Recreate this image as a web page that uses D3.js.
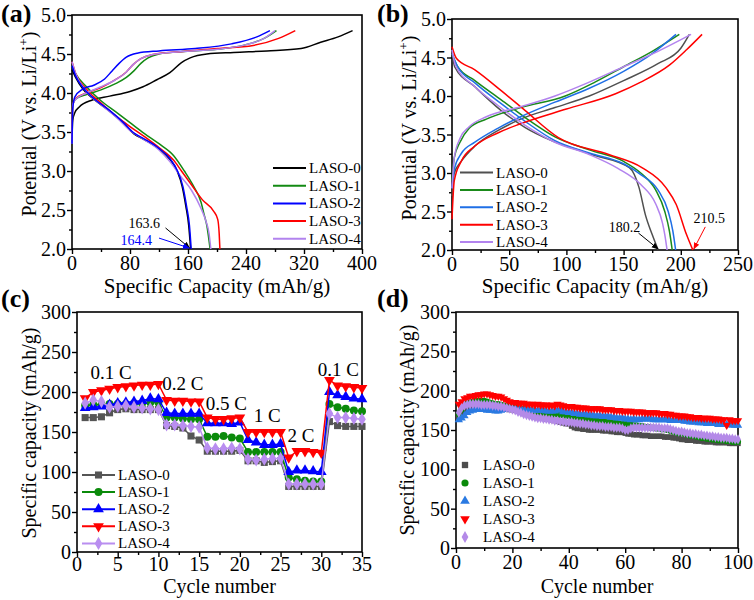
<!DOCTYPE html>
<html><head><meta charset="utf-8">
<script src="https://cdn.jsdelivr.net/npm/d3@7"></script>
<style>body{margin:0;background:#fff}</style>
</head><body><svg id="chart" width="754" height="600"></svg>
<script>
const seriesNames = ["LASO-0","LASO-1","LASO-2","LASO-3","LASO-4"];

// ---- Panel (a): first charge / discharge, [capacity, potential]
const a0Charge = [[0,3.39],[1,3.65],[4,3.75],[10,3.82],[28,3.91],[52,3.96],[80,4.02],[98,4.08],[117,4.17],[135,4.26],[151,4.39],[163,4.45],[186,4.50],[223,4.52],[269,4.54],[316,4.57],[343,4.65],[367,4.72],[387,4.80]];
const a1Charge = [[0,3.4],[1,3.85],[5,3.92],[20,3.98],[40,4.04],[60,4.12],[75,4.2],[85,4.28],[95,4.38],[105,4.45],[120,4.5],[150,4.53],[200,4.56],[240,4.62],[265,4.7],[282,4.8]];
const a2Charge = [[0,3.35],[1,3.8],[4,3.95],[15,4.05],[30,4.1],[45,4.18],[55,4.28],[65,4.38],[75,4.46],[90,4.51],[120,4.54],[170,4.57],[220,4.63],[255,4.72],[273,4.8]];
const a3Charge = [[0,3.4],[1,3.85],[5,3.93],[20,4.0],[40,4.07],[60,4.17],[75,4.27],[85,4.37],[95,4.44],[110,4.49],[150,4.53],[200,4.57],[250,4.61],[285,4.7],[308,4.8]];
const a4Charge = [[0,3.35],[1,3.85],[5,3.92],[20,4.0],[40,4.08],[60,4.17],[75,4.27],[85,4.37],[95,4.44],[110,4.49],[150,4.53],[200,4.56],[240,4.62],[265,4.7],[280,4.8]];
const a0Dis = [[0,4.3],[5,4.2],[15,4.05],[30,3.92],[50,3.78],[70,3.62],[85,3.48],[100,3.4],[120,3.28],[135,3.15],[145,3.0],[152,2.8],[157,2.55],[161,2.3],[163.6,2.0]];
const a1Dis = [[0,4.35],[5,4.25],[20,4.08],[40,3.9],[60,3.76],[80,3.62],[100,3.48],[120,3.35],[140,3.2],[155,3.0],[168,2.8],[178,2.6],[182,2.45],[186,2.3],[190.5,2.0]];
const a2Dis = [[0,4.35],[5,4.22],[15,4.07],[30,3.93],[50,3.79],[70,3.63],[85,3.49],[100,3.41],[120,3.29],[135,3.16],[145,3.01],[153,2.8],[158,2.55],[162,2.3],[164.4,2.0]];
const a3Dis = [[0,4.4],[5,4.25],[20,4.05],[40,3.87],[60,3.71],[80,3.57],[100,3.44],[120,3.3],[140,3.14],[151,3.0],[165,2.82],[180,2.63],[195,2.49],[201,2.38],[203,2.2],[204,2.0]];
const a4Dis = [[0,4.4],[5,4.25],[20,4.02],[40,3.85],[60,3.7],[80,3.52],[100,3.4],[120,3.27],[135,3.12],[150,2.93],[165,2.75],[178,2.52],[185,2.35],[189,2.2],[191.5,2.0]];

// ---- Panel (b)
const b0Charge = [[0,2.7],[2,3.0],[8,3.15],[20,3.35],[40,3.55],[60,3.7],[90,3.85],[120,4.0],[150,4.2],[180,4.42],[200,4.62],[207.5,4.8]];
const b1Charge = [[0,2.9],[2,3.2],[7,3.4],[15,3.58],[30,3.7],[60,3.85],[99,4.0],[125,4.18],[150,4.38],[175,4.58],[198.7,4.8]];
const b2Charge = [[0,2.8],[2,3.05],[8,3.25],[20,3.4],[40,3.58],[60,3.73],[90,3.92],[120,4.1],[150,4.32],[175,4.55],[195.8,4.8]];
const b3Charge = [[0,2.4],[2,2.9],[8,3.15],[20,3.35],[40,3.52],[60,3.64],[100,3.83],[143,4.03],[165,4.18],[190,4.4],[205,4.6],[218.6,4.8]];
const b4Charge = [[0,2.8],[2,3.2],[7,3.45],[15,3.6],[30,3.73],[60,3.86],[90,4.0],[120,4.18],[150,4.38],[180,4.58],[209,4.8]];
const b0Dis = [[0,4.6],[2.3,4.38],[20,4.12],[43,3.81],[64,3.59],[87,3.42],[122,3.24],[155,3.07],[163.5,2.81],[169,2.46],[175,2.2],[180.2,2.0]];
const b1Dis = [[0,4.55],[5,4.38],[20,4.2],[43,3.95],[64,3.72],[90,3.47],[120,3.3],[150,3.15],[165,3.0],[178,2.78],[186,2.5],[190,2.25],[192.5,2.0]];
const b2Dis = [[0,4.55],[5,4.38],[20,4.17],[43,3.9],[64,3.67],[90,3.42],[120,3.26],[150,3.12],[165,2.98],[180,2.78],[189,2.5],[193,2.25],[195.5,2.0]];
const b3Dis = [[0,4.64],[3.8,4.49],[20,4.34],[43,4.07],[64,3.81],[93,3.46],[137,3.24],[166,3.07],[187,2.81],[196,2.59],[205,2.2],[210.5,2.0]];
const b4Dis = [[0,4.6],[3,4.4],[20,4.12],[40,3.88],[64,3.62],[90,3.4],[120,3.24],[145,3.06],[165,2.85],[178,2.6],[184,2.35],[186,2.2],[188,2.0]];

// ---- Panel (c): rate capability, cycles 1..35
const cCycles = d3.range(1, 36);
const c0 = [168,168,169,174,178,179,178,178,178,178, 158,157,155,145,140, 126,126,126,126,127, 114,114,112,113,114, 82,82,82,82,82, 163,158,157,157,157];
const c1 = [183,184,184,185,185,185,186,186,187,187, 168,168,167,166,166, 144,144,145,143,142, 125,125,125,125,125, 93,91,89,88,88, 185,181,179,177,176];
const c2 = [180,181,182,184,186,187,188,189,192,191, 174,173,173,173,173, 161,161,161,160,162, 140,137,134,134,135, 100,102,102,101,100, 200,196,194,192,191];
const c3 = [192,200,202,204,206,207,208,209,209,210, 190,189,189,188,188, 168,166,166,167,168, 150,150,150,150,150, 118,126,126,125,124, 215,208,207,206,205];
const c4 = [186,190,188,181,182,183,181,180,179,178, 159,159,158,157,156, 130,129,129,130,129, 116,115,116,117,117, 85,85,85,85,85, 173,168,168,167,166];
const cRateLabels = ["0.1 C","0.2 C","0.5 C","1 C","2 C","0.1 C"];

// ---- Panel (d): cycling, cycles 1..100
const dCycles = d3.range(1, 101);
const d0 = [165,170,175,178,180,181,182,182,181,180, 179,179,178,178,178,177,177,177,176,176, 175,174,173,171,170,169,168,167,166,166, 165,164,164,163,162,161,160,159,158,158, 155,153,152,152,151,151,150,150,150,150, 150,149,149,149,148,148,147,147,147,146, 145,145,144,144,144,143,143,143,142,142, 142,142,142,141,141,141,140,140,139,138, 138,137,137,137,136,136,136,135,135,135, 135,134,134,134,134,134,133,133,133,133];
const d1 = [170,176,181,184,185,186,187,187,187,187, 186,185,184,183,183,182,181,181,180,180, 179,178,177,177,176,175,175,174,173,173, 172,172,171,171,170,170,169,169,168,168, 167,167,166,165,165,164,164,163,162,162, 161,161,160,160,160,159,159,158,158,158, 157,157,156,156,155,155,154,154,153,153, 152,152,151,151,150,149,148,147,146,146, 145,144,143,143,142,141,140,140,139,139, 138,138,137,137,137,136,136,135,135,135];
const d2 = [163,165,168,172,174,175,176,176,176,176, 175,175,175,174,174,175,176,177,177,177, 177,177,177,176,176,176,175,175,175,175, 175,174,174,174,174,175,176,173,173,172, 172,171,171,170,170,170,169,169,168,168, 168,167,167,167,166,166,165,165,165,164, 164,163,164,163,163,164,164,164,164,163, 163,163,163,163,163,162,162,162,162,162, 161,161,160,160,160,159,159,159,158,158, 158,158,157,157,157,157,157,156,156,156];
const d3v = [183,186,190,191,193,193,194,195,195,196, 196,195,194,193,193,192,190,188,186,185, 185,184,184,184,183,183,183,182,183,182, 182,182,181,182,181,183,182,181,180,180, 180,179,179,178,178,178,177,177,177,177, 177,176,176,176,176,175,175,175,174,174, 174,174,173,173,173,173,172,172,172,172, 172,171,171,171,170,170,169,169,168,168, 168,167,167,166,166,166,165,165,165,165, 164,164,164,163,163,156,163,162,162,162];
const d4 = [172,178,181,182,183,183,183,183,182,182, 182,182,181,181,180,180,179,178,177,176, 175,173,172,170,169,168,167,166,165,165, 164,164,163,163,162,162,161,161,160,160, 160,159,159,158,158,157,157,156,156,155, 155,155,154,154,154,153,153,153,152,150, 150,152,153,153,153,153,153,153,153,153, 153,153,152,152,152,151,150,149,148,148, 147,146,146,145,145,144,144,143,143,142, 142,141,141,140,140,140,139,139,138,138];

const SERIF = '"Liberation Serif"';
const svg = d3.select("#chart");

function T(x, y, str, size, opts = {}) {
  const t = svg.append("text").attr("x", x).attr("y", y)
    .style("font-family", SERIF).style("font-size", size + "px")
    .attr("fill", opts.fill || "#000");
  if (opts.anchor) t.attr("text-anchor", opts.anchor);
  if (opts.weight) t.style("font-weight", opts.weight);
  if (opts.rotate) t.attr("transform", `rotate(${opts.rotate},${x},${y})`);
  if (opts.sup) {
    t.append("tspan").text(str);
    t.append("tspan").attr("dy", -8).style("font-size", "13px").text(opts.sup);
    t.append("tspan").attr("dy", 8).text(opts.after || "");
  } else t.text(str);
  return t;
}

function makePanel(o) {
  const x = d3.scaleLinear().domain(o.xDomain).range([o.left, o.right]);
  const y = d3.scaleLinear().domain(o.yDomain).range([o.bottom, o.top]);
  const g = svg.append("g");
  g.append("g").attr("transform", `translate(0,${o.bottom})`)
    .call(d3.axisBottom(x).tickValues(o.xMinor).tickSize(3).tickFormat(""));
  g.append("g").attr("transform", `translate(${o.left},0)`)
    .call(d3.axisLeft(y).tickValues(o.yMinor).tickSize(3).tickFormat(""));
  g.append("g").attr("transform", `translate(0,${o.bottom})`)
    .call(d3.axisBottom(x).tickValues(o.xTicks).tickSize(5).tickFormat(""));
  g.append("g").attr("transform", `translate(${o.left},0)`)
    .call(d3.axisLeft(y).tickValues(o.yTicks).tickSize(5).tickFormat(""));
  g.selectAll(".domain").remove();
  g.selectAll("text").remove();
  g.selectAll("line").attr("stroke", "#000").attr("stroke-width", 1.4);
  g.append("rect").attr("x", o.left).attr("y", o.top).attr("width", o.right - o.left).attr("height", o.bottom - o.top)
    .attr("fill", "none").attr("stroke", "#000").attr("stroke-width", 1.6);
  const xf = o.xFmt || d3.format("d"), yf = o.yFmt || d3.format("d");
  o.xTicks.forEach(v => T(x(v), o.bottom + o.xTickDy, xf(v), 20, {anchor: "middle"}));
  o.yTicks.forEach(v => T(o.left - 6, y(v) + 7, yf(v), 20, {anchor: "end"}));
  T((o.left + o.right) / 2, o.xTitleY, o.xTitle, o.xTitleSize, {anchor: "middle"});
  T(o.yTitleX, o.yTitleCY, o.yTitle, 20, {anchor: "middle", rotate: -90, sup: o.yTitleSup, after: ")"});
  T(o.labelX, o.labelY, o.label, 26, {weight: "bold"});
  return {x, y, g};
}

const defs = svg.append("defs");
function arrowMarker(id, color) {
  defs.append("marker").attr("id", id).attr("viewBox", "0 0 10 10").attr("refX", 9).attr("refY", 5)
    .attr("markerWidth", 7).attr("markerHeight", 7).attr("orient", "auto")
    .append("path").attr("d", "M0,1 L10,5 L0,9 Z").attr("fill", color);
}
arrowMarker("arK", "#000"); arrowMarker("arB", "#0000ff"); arrowMarker("arR", "#ff0000");

function lineLegend(x0, y0, step, names, colors) {
  names.forEach((n, i) => {
    const yy = y0 + i * step;
    svg.append("line").attr("x1", x0).attr("x2", x0 + 33).attr("y1", yy).attr("y2", yy)
      .attr("stroke", colors[i]).attr("stroke-width", 2);
    T(x0 + 36, yy + 5, n, 15);
  });
}

// ================= Panel (a)
{
  const P = makePanel({left: 72, right: 362, top: 15, bottom: 249, xDomain: [0, 400], yDomain: [2, 5],
    xTicks: [0, 80, 160, 240, 320, 400], xMinor: d3.range(40, 400, 80), yTicks: [2, 2.5, 3, 3.5, 4, 4.5, 5],
    yMinor: d3.range(2.25, 5, 0.5), yFmt: d3.format(".1f"), xTickDy: 21,
    xTitle: "Specific Capacity (mAh/g)", xTitleY: 293, xTitleSize: 21, yTitle: "Potential (V vs. Li/Li", yTitleSup: "+", yTitleX: 36, yTitleCY: 124,
    label: "(a)", labelX: 1, labelY: 22});
  const colors = ["#000000", "#138a13", "#0000ff", "#ff0000", "#b283ee"];
  const ch = [a0Charge, a1Charge, a2Charge, a3Charge, a4Charge], dis = [a0Dis, a1Dis, a2Dis, a3Dis, a4Dis];
  const line = d3.line().x(d => P.x(d[0])).y(d => P.y(d[1])).curve(d3.curveMonotoneX);
  [0, 1, 3, 4, 2].forEach(i => {
    svg.append("path").attr("d", line(ch[i])).attr("fill", "none").attr("stroke", colors[i]).attr("stroke-width", 1.5);
    svg.append("path").attr("d", line(dis[i])).attr("fill", "none").attr("stroke", colors[i]).attr("stroke-width", 1.5);
  });
  T(P.x(78), P.y(2.27), "163.6", 14);
  svg.append("line").attr("x1", P.x(129)).attr("y1", P.y(2.27)).attr("x2", P.x(163.6) - 1).attr("y2", P.y(2.0) - 1)
    .attr("stroke", "#000").attr("stroke-width", 1).attr("marker-end", "url(#arK)");
  T(P.x(67), P.y(2.05), "164.4", 14, {fill: "#0000ff"});
  svg.append("line").attr("x1", P.x(120)).attr("y1", P.y(2.14)).attr("x2", P.x(164.4) - 2).attr("y2", P.y(2.0) - 1)
    .attr("stroke", "#0000ff").attr("stroke-width", 1).attr("marker-end", "url(#arB)");
  lineLegend(273, 168, 17.7, seriesNames, colors);
}

// ================= Panel (b)
{
  const P = makePanel({left: 452, right: 738, top: 19, bottom: 250, xDomain: [0, 250], yDomain: [2, 5],
    xTicks: [0, 50, 100, 150, 200, 250], xMinor: d3.range(25, 250, 50), yTicks: [2, 2.5, 3, 3.5, 4, 4.5, 5],
    yMinor: d3.range(2.25, 5, 0.5), yFmt: d3.format(".1f"), xTickDy: 21,
    xTitle: "Specific Capacity (mAh/g)", xTitleY: 293, xTitleSize: 21, yTitle: "Potential (V vs. Li/Li", yTitleSup: "+", yTitleX: 416, yTitleCY: 128,
    label: "(b)", labelX: 377, labelY: 22});
  const colors = ["#505050", "#1a8a1a", "#1f6fe6", "#ff0000", "#b283ee"];
  const ch = [b0Charge, b1Charge, b2Charge, b3Charge, b4Charge], dis = [b0Dis, b1Dis, b2Dis, b3Dis, b4Dis];
  const line = d3.line().x(d => P.x(d[0])).y(d => P.y(d[1])).curve(d3.curveMonotoneX);
  [0, 1, 2, 3, 4].forEach(i => {
    svg.append("path").attr("d", line(ch[i])).attr("fill", "none").attr("stroke", colors[i]).attr("stroke-width", 1.5);
    svg.append("path").attr("d", line(dis[i])).attr("fill", "none").attr("stroke", colors[i]).attr("stroke-width", 1.5);
  });
  T(P.x(137), P.y(2.24), "180.2", 14);
  svg.append("line").attr("x1", P.x(163)).attr("y1", P.y(2.22)).attr("x2", P.x(180.2)).attr("y2", P.y(2.0) - 1)
    .attr("stroke", "#000").attr("stroke-width", 1).attr("marker-end", "url(#arK)");
  T(P.x(211), P.y(2.35), "210.5", 14);
  svg.append("line").attr("x1", P.x(221.4)).attr("y1", P.y(2.3)).attr("x2", P.x(210.5) + 1).attr("y2", P.y(2.0) - 1)
    .attr("stroke", "#ff0000").attr("stroke-width", 1).attr("marker-end", "url(#arR)");
  lineLegend(460, 172.5, 17.4, seriesNames, colors);
}

// ================= Panel (c)
{
  const P = makePanel({left: 77, right: 362, top: 312, bottom: 552, xDomain: [0, 35], yDomain: [0, 300],
    xTicks: d3.range(0, 36, 5), xMinor: d3.range(2.5, 35, 5), yTicks: d3.range(0, 301, 50), yMinor: d3.range(25, 300, 50), xTickDy: 19,
    xTitle: "Cycle number", xTitleY: 593, xTitleSize: 20, yTitle: "Specific capacity (mAh/g)", yTitleX: 36, yTitleCY: 433,
    label: "(c)", labelX: 1, labelY: 307});
  const colors = ["#555555", "#0a8a0a", "#0000ff", "#ff0000", "#b98ef0"];
  const symbols = [d3.symbolSquare, d3.symbolCircle, d3.symbolTriangle, d3.symbolTriangle, d3.symbolDiamond];
  const sizes = [50, 50, 50, 50, 50];
  const vals = [c0, c1, c2, c3, c4];
  const line = d3.line().x((d, i) => P.x(cCycles[i])).y(d => P.y(d));
  vals.forEach((v, s) => {
    svg.append("path").attr("d", line(v)).attr("fill", "none").attr("stroke", colors[s]).attr("stroke-width", 1.5);
    svg.append("g").selectAll("path").data(v).join("path")
      .attr("d", d3.symbol(symbols[s], sizes[s]))
      .attr("transform", (d, i) => `translate(${P.x(cCycles[i])},${P.y(d)})` + (s === 3 ? " rotate(180)" : ""))
      .attr("fill", colors[s]);
  });
  const rx = [4.2, 13.0, 18.35, 23.35, 27.5, 32.1], ry = [216, 202, 177, 163, 138, 220];
  cRateLabels.forEach((t, i) => T(P.x(rx[i]), P.y(ry[i]), t, 19, {anchor: "middle"}));
  colors.forEach((c, i) => {
    const yy = 475 + i * 17.1;
    svg.append("line").attr("x1", 82).attr("x2", 115).attr("y1", yy).attr("y2", yy).attr("stroke", c).attr("stroke-width", 2);
    svg.append("path").attr("d", d3.symbol(symbols[i], sizes[i])()).attr("transform", `translate(98.5,${yy})` + (i === 3 ? " rotate(180)" : "")).attr("fill", c);
    T(118, yy + 5, seriesNames[i], 15);
  });
}

// ================= Panel (d)
{
  const P = makePanel({left: 456, right: 738, top: 312, bottom: 548, xDomain: [0, 100], yDomain: [0, 300],
    xTicks: d3.range(0, 101, 20), xMinor: d3.range(10, 100, 20), yTicks: d3.range(0, 301, 50), yMinor: d3.range(25, 300, 50), xTickDy: 21,
    xTitle: "Cycle number", xTitleY: 593, xTitleSize: 20, yTitle: "Specific capacity (mAh/g)", yTitleX: 414, yTitleCY: 430,
    label: "(d)", labelX: 377, labelY: 307});
  const colors = ["#4d4d4d", "#0a8a0a", "#2a7ae2", "#ff0000", "#b48ae8"];
  const symbols = [d3.symbolSquare, d3.symbolCircle, d3.symbolTriangle, d3.symbolTriangle, d3.symbolDiamond];
  const vals = [d0, d1, d2, d3v, d4];
  vals.forEach((v, s) => {
    svg.append("g").selectAll("path").data(v).join("path")
      .attr("d", d3.symbol(symbols[s], 30))
      .attr("transform", (d, i) => `translate(${P.x(dCycles[i])},${P.y(d)})` + (s === 3 ? " rotate(180)" : ""))
      .attr("fill", colors[s]);
  });
  colors.forEach((c, i) => {
    const yy = 465 + i * 18;
    svg.append("path").attr("d", d3.symbol(symbols[i], 40)()).attr("transform", `translate(465,${yy})` + (i === 3 ? " rotate(180)" : "")).attr("fill", c);
    T(483, yy + 5, seriesNames[i], 15);
  });
}
</script></body></html>
